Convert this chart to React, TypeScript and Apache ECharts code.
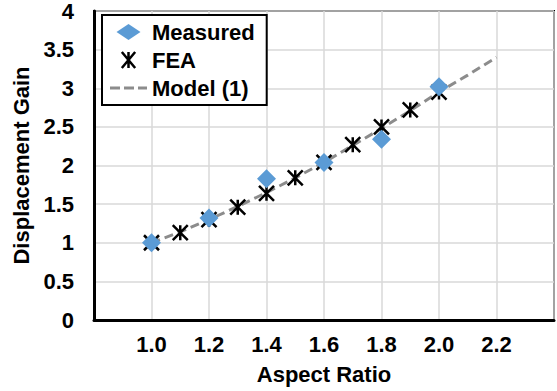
import React, { useEffect, useRef } from "react";
import * as echarts from "echarts";

const measuredX = [1.0, 1.2, 1.4, 1.6, 1.8, 2.0];
const measuredY = [1.0, 1.32, 1.83, 2.04, 2.34, 3.02];

const feaX = [1.0, 1.1, 1.2, 1.3, 1.4, 1.5, 1.6, 1.7, 1.8, 1.9, 2.0];
const feaY = [1.0, 1.13, 1.3, 1.46, 1.64, 1.84, 2.04, 2.27, 2.5, 2.72, 2.95];

const modelX = [1.0, 1.1, 1.2, 1.3, 1.4, 1.5, 1.6, 1.7, 1.8, 1.9, 2.0, 2.1, 2.2];
const modelY = [1.0, 1.14, 1.3, 1.47, 1.65, 1.84, 2.04, 2.26, 2.48, 2.71, 2.95, 3.17, 3.4];

const seriesNames = ["Measured", "FEA", "Model (1)"];

const FONT = "'Liberation Sans', Arial, sans-serif";
const STAR = "path://M0,0 L10,10 M10,0 L0,10 M5,0 L5,10";
const LEGEND_STAR = "path://M0,0 L10,12 M10,0 L0,12 M5,0 L5,12";
const LEGEND_DIAMOND = "path://M12,0 L24,8 L12,16 L0,8 Z";
const DASHES = "path://M0,0 h10 v3 h-10 Z M14,0 h10 v3 h-10 Z M28,0 h9 v3 h-9 Z";

const BLUE = "#5b9bd5";
const GRAY = "#8c8c8c";

const zip = (xs: number[], ys: number[]) => xs.map((x, i) => [x, ys[i]]);

export default function App() {
  const ref = useRef<HTMLDivElement>(null);
  useEffect(() => {
    if (!ref.current) return;
    const chart = echarts.init(ref.current, undefined, { renderer: "svg" });
    const bold = { fontFamily: FONT, fontSize: 22, fontWeight: "bold", color: "#000" };
    chart.setOption({
      animation: false,
      backgroundColor: "#fff",
      textStyle: { fontFamily: FONT },
      grid: {
        left: 94,
        right: 1,
        top: 8,
        bottom: 71,
        show: true,
        borderColor: "#000",
        borderWidth: 2,
        backgroundColor: "transparent",
      },
      legend: {
        data: [
          { name: seriesNames[0], icon: LEGEND_DIAMOND, itemStyle: { color: BLUE, opacity: 1 } },
          {
            name: seriesNames[1],
            icon: LEGEND_STAR,
            itemStyle: { color: "rgba(0,0,0,0)", borderColor: "#000", borderWidth: 2.5, opacity: 1 },
          },
          { name: seriesNames[2], icon: DASHES, itemStyle: { color: GRAY, borderWidth: 0, opacity: 1 } },
        ],
        orient: "vertical",
        left: 102,
        top: 15,
        padding: [6, 12, 6, 8],
        itemGap: 6,
        itemWidth: 37,
        itemHeight: 16,
        symbolKeepAspect: true,
        borderColor: "#000",
        borderWidth: 2,
        backgroundColor: "#fff",
        textStyle: bold,
      },
      xAxis: {
        type: "value",
        min: 0.8,
        max: 2.4,
        interval: 0.2,
        name: "Aspect Ratio",
        nameLocation: "middle",
        nameGap: 43,
        nameTextStyle: bold,
        axisLine: { show: true, lineStyle: { color: "#000", width: 3 } },
        axisTick: { show: false },
        axisLabel: {
          ...bold,
          margin: 13,
          formatter: (v: number) => (v < 0.9 || v > 2.3 ? "" : v.toFixed(1)),
        },
        splitLine: { show: true, lineStyle: { color: "#d9d9d9", width: 1.5 } },
      },
      yAxis: {
        type: "value",
        min: 0,
        max: 4,
        interval: 0.5,
        name: "Displacement Gain",
        nameLocation: "middle",
        nameGap: 62,
        nameTextStyle: bold,
        axisLine: { show: true, lineStyle: { color: "#000", width: 3 } },
        axisTick: { show: false },
        axisLabel: { ...bold, margin: 20 },
        splitLine: { show: true, lineStyle: { color: "#d9d9d9", width: 1.5 } },
      },
      series: [
        {
          name: "Model (1)",
          type: "line",
          data: zip(modelX, modelY),
          symbol: "none",
          z: 1,
          lineStyle: { color: GRAY, width: 3, type: [9, 5] },
          itemStyle: { color: GRAY },
        },
        {
          name: "FEA",
          type: "scatter",
          data: zip(feaX, feaY),
          symbol: STAR,
          symbolSize: 15,
          z: 2,
          itemStyle: { color: "rgba(0,0,0,0)", borderColor: "#000", borderWidth: 2.5, opacity: 1 },
        },
        {
          name: "Measured",
          type: "scatter",
          data: zip(measuredX, measuredY),
          symbol: "diamond",
          symbolSize: 19,
          z: 3,
          itemStyle: { color: BLUE, opacity: 1 },
        },
      ],
    });
    return () => chart.dispose();
  }, []);
  return <div ref={ref} style={{ width: 557, height: 391, position: "absolute", left: 0, top: 0 }} />;
}
